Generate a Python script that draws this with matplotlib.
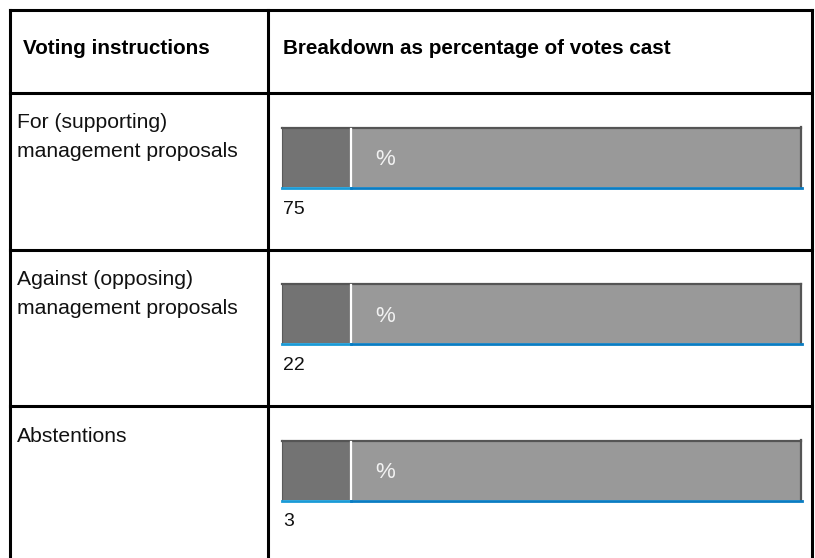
import matplotlib
matplotlib.use("Agg")
import matplotlib.pyplot as plt

plt.rcParams['font.family'] = ['Liberation Sans', 'DejaVu Sans']

# ---- data ----
header_left = "Voting instructions"
header_right = "Breakdown as percentage of votes cast"
categories = ["For (supporting)\nmanagement proposals",
              "Against (opposing)\nmanagement proposals",
              "Abstentions"]
values = [75, 22, 3]
unit = "%"

# ---- layout (pixels) ----
W, H = 815, 558
fig = plt.figure(figsize=(W / 100, H / 100), dpi=100)
ax = fig.add_axes([0, 0, 1, 1])
ax.set_xlim(0, W)
ax.set_ylim(H, 0)
ax.axis('off')

x_left, x_div, x_right = 9.5, 267.5, 812
y_top, y_head = 10, 93
row_h = 156.5
lw = 2.2

row_tops = [y_head + i * row_h for i in range(len(categories))]

# grid lines
ax.plot([x_left, x_right], [y_top, y_top], color='black', lw=lw, solid_capstyle='projecting')
ax.plot([x_left, x_right], [y_head, y_head], color='black', lw=lw)
for rt in row_tops[1:]:
    ax.plot([x_left, x_right], [rt, rt], color='black', lw=lw)
for xx in (x_left, x_div, x_right):
    ax.plot([xx, xx], [y_top, H + 5], color='black', lw=lw, solid_capstyle='projecting')

# header
ax.text(23, 54.5, header_left, fontsize=14.9, fontweight='bold', va='baseline', ha='left', color='#000000')
ax.text(283, 54.5, header_right, fontsize=14.9, fontweight='bold', va='baseline', ha='left', color='#000000')

# field geometry
bx0, bx_sep, bx1 = 282, 350.5, 801
for rt, cat, val in zip(row_tops, categories, values):
    lines = cat.split("\n")
    for j, ln in enumerate(lines):
        ax.text(17, rt + 35.5 + j * 28.5, ln, fontsize=15.2, va='baseline', ha='left', color='#111111')
    top = rt + 34
    bot = rt + 93.5
    yc = (top + bot) / 2
    hgt = bot - top
    # dark segment and light segment
    ax.barh(yc, bx_sep - bx0, left=bx0, height=hgt, color='#737373', edgecolor='none')
    ax.barh(yc, bx1 - bx_sep, left=bx_sep, height=hgt, color='#999999', edgecolor='none')
    # outline top / right / left
    ax.plot([bx0, bx1], [top + 0.5, top + 0.5], color='#555555', lw=1.6)
    ax.plot([bx1, bx1], [top, bot], color='#555555', lw=1.6)
    ax.plot([bx0 + 0.3, bx0 + 0.3], [top, bot], color='#5a5a5a', lw=0.8)
    # separator
    ax.plot([bx_sep, bx_sep], [top + 1.5, bot], color='white', lw=1.6)
    # blue bottom line
    ax.plot([bx0, bx_sep], [bot + 1, bot + 1], color='#1a9ad6', lw=2.0)
    ax.plot([bx_sep, bx1 + 1], [bot + 1, bot + 1], color='#0a7cc2', lw=2.0)
    # unit
    ax.text(375, rt + 72, unit, fontsize=16, va='baseline', ha='left', color='#f2f2f2')
    # value
    ax.text(283, rt + 120.5, str(val), fontsize=14, va='baseline', ha='left', color='#111111')

fig.savefig("out.png", dpi=100, facecolor='white')
